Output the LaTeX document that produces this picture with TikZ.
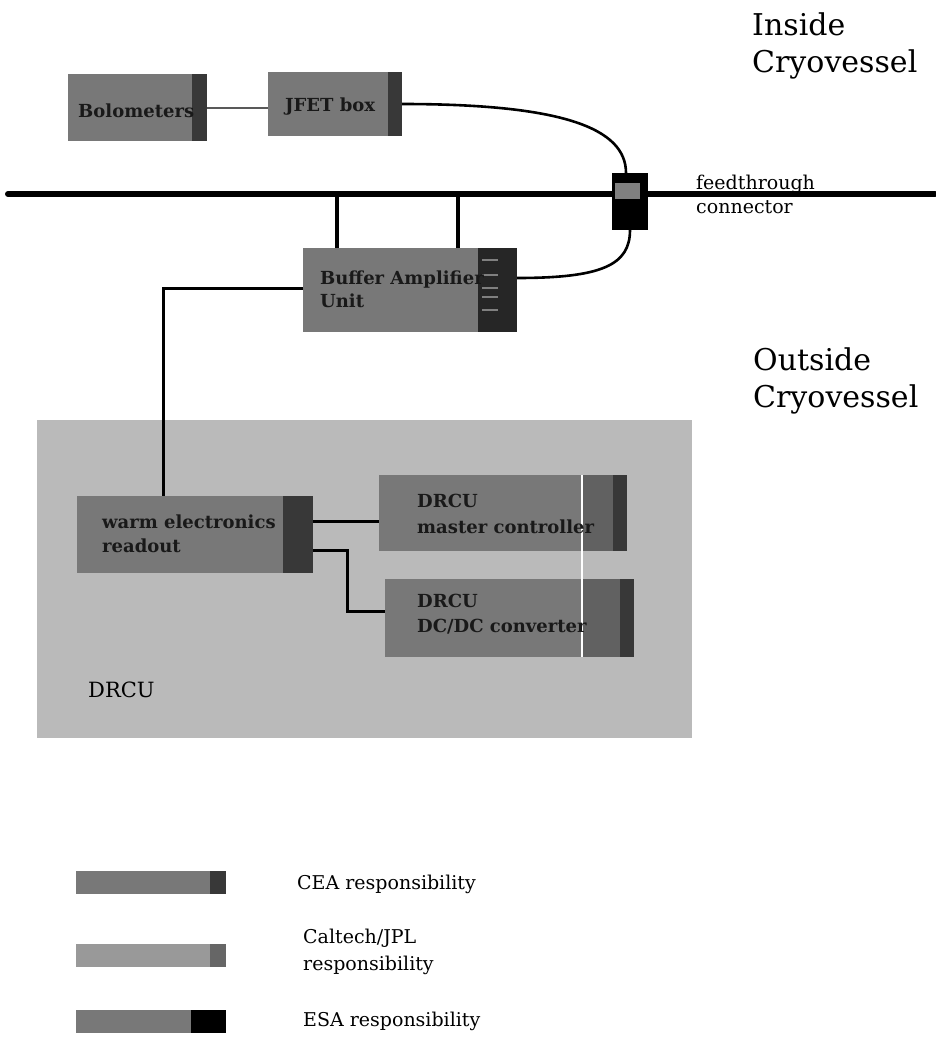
\documentclass[tikz,border=0pt]{standalone}
\usepackage{fontspec}
\setmainfont{DejaVu Serif}
\definecolor{boxgray}{gray}{0.47}
\definecolor{bandgray}{gray}{0.22}
\definecolor{midband}{gray}{0.38}
\definecolor{drcugray}{gray}{0.73}
\definecolor{jplgray}{gray}{0.60}
\definecolor{linegray}{gray}{0.35}
\begin{document}
\begin{tikzpicture}[x=1pt,y=-1pt,
  box/.style={draw=none, fill=boxgray, inner sep=0pt, outer sep=0pt, anchor=north west},
  lbl/.style={font=\fontsize{18}{21}\selectfont\bfseries, inner sep=0pt, anchor=base west, text=black!90},
  bigtxt/.style={font=\fontsize{30}{36}\selectfont, inner sep=0pt, anchor=base west},
  midtxt/.style={font=\fontsize{19}{23}\selectfont, inner sep=0pt, anchor=base west},
  conn/.style={line width=3pt, black},
  curveconn/.style={line width=2.6pt, black},
  stub/.style={line width=4.5pt, black},
  busline/.style={line width=6pt, black, line cap=round},
  thinconn/.style={line width=2pt, linegray}]
\useasboundingbox (0,0) rectangle (935,1039);
\fill[white] (0,0) rectangle (935,1039);

% DRCU area
\node[box, fill=drcugray, minimum width=655pt, minimum height=318pt] (drcu) at (37,420) {};
\node[font=\fontsize{21}{25}\selectfont, inner sep=0pt, anchor=base west] (drcut) at (88,697) {DRCU};

% bus line
\coordinate (busL) at (8,194);
\coordinate (busR) at (935,194);
\draw[busline] (busL) -- (busR);

% Boxes
\node[box, minimum width=139pt, minimum height=67pt] (bolo) at (68,74) {};
\fill[bandgray] ([xshift=-15pt]bolo.north east) rectangle (bolo.south east);
\node[box, minimum width=134pt, minimum height=64pt] (jfet) at (268,72) {};
\fill[bandgray] ([xshift=-14pt]jfet.north east) rectangle (jfet.south east);
\node[box, minimum width=214pt, minimum height=84pt] (buffer) at (303,248) {};
\fill[black!85] ([xshift=-39pt]buffer.north east) rectangle (buffer.south east);
\foreach \yy in {260,275,288,297,310}
  \draw[gray, line width=1.2pt] (482,\yy) -- (498,\yy);
\node[box, minimum width=236pt, minimum height=77pt] (warm) at (77,496) {};
\fill[bandgray] ([xshift=-30pt]warm.north east) rectangle (warm.south east);
\node[box, minimum width=248pt, minimum height=76pt] (master) at (379,475) {};
\fill[midband] (582,475) rectangle (613,551);
\fill[bandgray] ([xshift=-14pt]master.north east) rectangle (master.south east);
\node[box, minimum width=249pt, minimum height=78pt] (dcdc) at (385,579) {};
\fill[midband] (582,579) rectangle (620,657);
\fill[bandgray] ([xshift=-14pt]dcdc.north east) rectangle (dcdc.south east);
\draw[white, line width=1.2pt] (582,475) -- (582,657);

% stubs from bus to buffer
\coordinate (stubA) at ([xshift=34pt]buffer.north west);
\coordinate (stubB) at ([xshift=155pt]buffer.north west);
\draw[stub] (stubA) -- (stubA |- busL);
\draw[stub] (stubB) -- (stubB |- busL);

% feedthrough connector
\node[box, fill=black, minimum width=36pt, minimum height=57pt] (feed) at (612,173) {};
\fill[gray] (615,183) rectangle (640,199);

% connectors
\coordinate (mIn) at ([yshift=-8pt]master.west);
\coordinate (dIn) at ([yshift=7pt]dcdc.west);
\coordinate (wOut) at ([yshift=-15.5pt]warm.east);
\draw[thinconn] (bolo.east) -- (bolo.east -| jfet.west);
\draw[curveconn] (jfet.east) .. controls +(160,0) and +(0,-45) .. ([xshift=-4pt]feed.north);
\draw[curveconn] ([yshift=12pt]buffer.east) .. controls +(85,0) and +(0,35) .. (feed.south);
\draw[conn] ([yshift=2pt]buffer.west) -| ([xshift=86pt]warm.north west);
\draw[conn] (warm.east |- mIn) -- (mIn);
\draw[conn] (wOut) -- ++(34,0) |- (dIn);

% box labels
\node[lbl] (bolot) at (78,117) {Bolometers};
\node[lbl] (jfett) at (285,111) {JFET box};
\node[lbl] (buft1) at (320,284) {Buffer Amplifier};
\node[lbl] (buft2) at (320,307) {Unit};
\node[lbl] (warmt1) at (102,528) {warm electronics};
\node[lbl] (warmt2) at (102,552) {readout};
\node[lbl] (mastt1) at (417,507) {DRCU};
\node[lbl] (mastt2) at (417,533) {master controller};
\node[lbl] (dcdct1) at (417,607) {DRCU};
\node[lbl] (dcdct2) at (417,632) {DC/DC converter};

% side labels
\node[bigtxt] (in1) at (752,35) {Inside};
\node[bigtxt] (in2) at (752,72) {Cryovessel};
\node[bigtxt] (out1) at (753,370) {Outside};
\node[bigtxt] (out2) at (753,407) {Cryovessel};
\node[midtxt] (ft1) at (696,189) {feedthrough};
\node[midtxt] (ft2) at (696,213) {connector};

% legend
\node[box, minimum width=150pt, minimum height=23pt] (legcea) at (76,871) {};
\fill[bandgray] ([xshift=-16pt]legcea.north east) rectangle (legcea.south east);
\node[box, fill=jplgray, minimum width=150pt, minimum height=23pt] (legjpl) at (76,944) {};
\fill[gray!80!black] ([xshift=-16pt]legjpl.north east) rectangle (legjpl.south east);
\node[box, minimum width=150pt, minimum height=23pt] (legesa) at (76,1010) {};
\fill[black] ([xshift=-35pt]legesa.north east) rectangle (legesa.south east);
\node[midtxt] (legceat) at (297,889) {CEA responsibility};
\node[midtxt] (legjplt1) at (303,943) {Caltech/JPL};
\node[midtxt] (legjplt2) at (303,970) {responsibility};
\node[midtxt] (legesat) at (303,1026) {ESA responsibility};
\end{tikzpicture}
\end{document}
